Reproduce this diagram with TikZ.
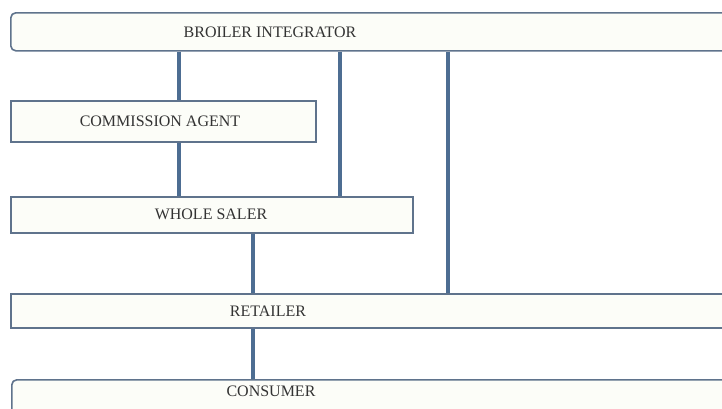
\documentclass[tikz,border=0pt]{standalone}
\usepackage{fontspec}
\setmainfont{Liberation Serif}
\definecolor{linkc}{HTML}{4D6D92}
\definecolor{edgec}{HTML}{5F738C}
\definecolor{fillc}{HTML}{FCFDF8}
\begin{document}
\begin{tikzpicture}[x=1pt,y=-1pt,
  box/.style={draw=edgec, line width=1.6pt, fill=fillc, inner sep=0pt, anchor=north west},
  rbox/.style={box, rounded corners=5pt},
  lbl/.style={font=\fontsize{16}{18}\selectfont, text=black!80, inner sep=0pt},
  link/.style={draw=linkc, line width=4.5pt}]
\useasboundingbox (0,0) rectangle (722,408);
\clip (0,0) rectangle (722,408);
\fill[white] (0,0) rectangle (722,408);
% boxes
\node[rbox, minimum width=720pt, minimum height=38pt] (bi) at (10,12) {};
\node[box, minimum width=305pt, minimum height=41pt] (ca) at (10,100) {};
\node[box, minimum width=402pt, minimum height=36pt] (ws) at (10,196) {};
\node[box, minimum width=720pt, minimum height=34pt] (re) at (10,293) {};
\node[rbox, minimum width=720pt, minimum height=40pt] (co) at (11,379) {};
% labels
\node[lbl] (tbi) at (270,32) {BROILER INTEGRATOR};
\node[lbl] (tca) at (160,121) {COMMISSION AGENT};
\node[lbl] (tws) at (211,214) {WHOLE SALER};
\node[lbl] (tre) at (268,311) {RETAILER};
\node[lbl] (tco) at (271,391) {CONSUMER};
% connector x positions
\coordinate (xa) at (179,0);
\coordinate (xb) at (340,0);
\coordinate (xc) at (448,0);
\coordinate (xd) at (253,0);
% connectors
\draw[link] (bi.south -| xa) -- (ca.north -| xa);
\draw[link] (ca.south -| xa) -- (ws.north -| xa);
\draw[link] (bi.south -| xb) -- (ws.north -| xb);
\draw[link] (bi.south -| xc) -- (re.north -| xc);
\draw[link] (ws.south -| xd) -- (re.north -| xd);
\draw[link] (re.south -| xd) -- (co.north -| xd);
\end{tikzpicture}
\end{document}
